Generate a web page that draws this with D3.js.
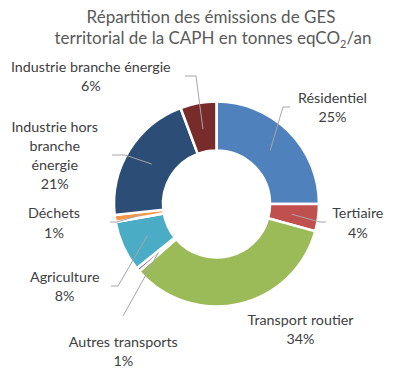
<!DOCTYPE html>
<html><head><meta charset="utf-8">
<script src="https://cdn.jsdelivr.net/npm/d3@7"></script>
<style>html,body{margin:0;padding:0;background:#fff;}svg{display:block;}</style>
</head><body>
<svg id="chart" width="400" height="368"></svg>
<script>
// ---- data ----
const categories = ["Résidentiel","Tertiaire","Transport routier","Autres transports","Agriculture","Déchets","Industrie hors branche énergie","Industrie branche énergie"];
const values = [25.0, 4.3, 34.3, 0.6, 8.0, 1.1, 21.0, 5.7];
const percentLabels = ["25%","4%","34%","1%","8%","1%","21%","6%"];
const labelLines = [["Résidentiel"],["Tertiaire"],["Transport routier"],["Autres transports"],["Agriculture"],["Déchets"],["Industrie hors","branche","énergie"],["Industrie branche énergie"]];
const colors = ["#4F81BD","#C0504D","#9BBB59","#8064A2","#4BACC6","#F79646","#2C4D75","#772C2A"];
const titleLines = ["Répartition des émissions de GES","territorial de la CAPH en tonnes eqCO","/an"];

// ---- layout ----
const cx = 216.5, cy = 204, rOuter = 102.5, rInner = 53.5;
// label text centre x, first baseline y, leader elbow points (null = no leader)
const labelLayout = [
  {x:332.5, y:102.7, leader:[[283,107],[290,107]]},
  {x:357.8, y:218.3, leader:[[320,222],[326,222]]},
  {x:300.5, y:325,   leader:null},
  {x:123.3, y:346.7, leader:[[123,316]]},
  {x:64.7,  y:281.7, leader:[[118,286],[111,286]]},
  {x:54,    y:218.3, leader:[[117,222],[110,222]]},
  {x:54.7,  y:131.7, leader:[[125,155],[112,155]]},
  {x:90.8,  y:71.7,  leader:[[196,76],[185,76]]}
];

const svg = d3.select("#chart");
const font = "Lato, 'Open Sans', sans-serif";

// title
const title = svg.append("text").attr("text-anchor","middle").attr("font-family",font)
  .attr("font-size",17).attr("fill","#595959");
title.append("tspan").attr("x",211).attr("y",22.5).text(titleLines[0]);
const t2 = title.append("tspan").attr("x",213).attr("y",43.5);
t2.append("tspan").text(titleLines[1]);
t2.append("tspan").attr("font-size",11).attr("dy",4).text("2");
t2.append("tspan").attr("dy",-4).text(titleLines[2]);

const pie = d3.pie().sort(null).value(d => d)(values);
const arc = d3.arc().innerRadius(rInner).outerRadius(rOuter);
const g = svg.append("g").attr("transform",`translate(${cx},${cy})`);
g.selectAll("path.slice").data(pie).join("path").attr("class","slice")
  .attr("d",arc).attr("fill",(d,i)=>colors[i]).attr("stroke","#fff").attr("stroke-width",2.6);

// leader lines
const midArc = d3.arc().innerRadius(70).outerRadius(82);
pie.forEach((d,i) => {
  const L = labelLayout[i];
  if (!L.leader) return;
  const c = midArc.centroid(d);
  const pts = [[cx+c[0], cy+c[1]], ...L.leader];
  svg.append("path").attr("d", d3.line()(pts)).attr("fill","none")
    .attr("stroke","#A6A6A6").attr("stroke-width",1);
});

// labels
pie.forEach((d,i) => {
  const L = labelLayout[i];
  const t = svg.append("text").attr("text-anchor","middle").attr("font-family",font)
    .attr("font-size",14.3).attr("fill","#404040");
  const lines = labelLines[i].concat([percentLabels[i]]);
  lines.forEach((s,k) => t.append("tspan").attr("x",L.x).attr("y",L.y + k*19.2).text(s));
});
</script>
</body></html>
